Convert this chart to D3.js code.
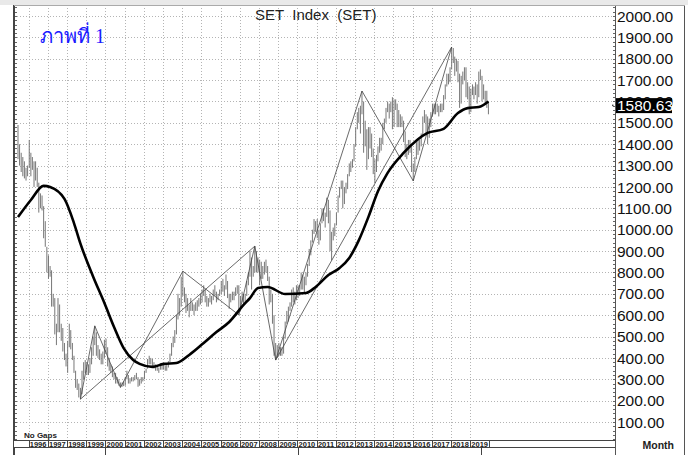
<!DOCTYPE html>
<html>
<head>
<meta charset="utf-8">
<script src="https://cdn.jsdelivr.net/npm/d3@7"></script>
<style>
  body { margin: 0; background: #fff; }
  svg { display: block; font-family: "Liberation Sans", Arial, sans-serif; }
</style>
</head>
<body>
<svg id="chart" width="688" height="455"></svg>
<script>
// monthly SET index bars, first bar = June 1995
const firstMonth = [1995, 5]
const highs = [
  1490, 1400, 1360, 1340, 1320, 1290, 1300,
  1420, 1360, 1340, 1320, 1320, 1290, 1220, 1170, 1160, 1110, 1040, 920,
  880, 830, 810, 700, 680, 560, 680, 650, 560, 540, 470, 420,
  480, 560, 530, 470, 410, 340, 300, 280, 260, 340, 380, 390,
  380, 370, 400, 450, 500, 550, 520, 460, 440, 420, 430, 485,
  490, 450, 400, 370, 360, 330, 330, 310, 300, 285, 285, 290,
  310, 340, 320, 305, 310, 310, 320, 330, 310, 300, 310, 310,
  340, 350, 395, 410, 400, 395, 380, 370, 360, 355, 375, 370,
  370, 365, 370, 385, 420, 470, 500, 530, 600, 700, 680, 780,
  806, 730, 700, 680, 650, 680, 660, 650, 660, 670, 680, 700,
  720, 740, 720, 690, 680, 700, 690, 720, 740, 710, 700, 720,
  760, 770, 740, 790, 760, 700, 700, 710, 710, 730, 740, 740,
  690, 710, 700, 700, 760, 800, 900, 870, 830, 923, 900, 870,
  860, 850, 830, 850, 860, 830, 780, 720, 700, 600, 470, 460,
  470, 450, 450, 500, 570, 620, 640, 660, 720, 730, 710, 740,
  740, 740, 800, 790, 780, 800, 840, 910, 950, 1000, 1050, 1040,
  1050, 1000, 1030, 1100, 1100, 1080, 1150, 1140, 1090, 990, 1010, 1030,
  1080, 1160, 1200, 1230, 1230, 1200, 1220, 1260, 1310, 1320, 1330, 1400,
  1480, 1550, 1570, 1580, 1649, 1600, 1510, 1470, 1480, 1480, 1450, 1380,
  1330, 1350, 1390, 1430, 1430, 1500, 1520, 1570, 1600, 1590, 1600, 1620,
  1610, 1610, 1590, 1560, 1540, 1530, 1510, 1460, 1400, 1420, 1420, 1390,
  1310, 1340, 1410, 1420, 1420, 1450, 1530, 1560, 1540, 1530, 1520, 1550,
  1590, 1590, 1590, 1590, 1580, 1590, 1590, 1630, 1680, 1730, 1730, 1760,
  1855, 1850, 1810, 1800, 1790, 1730, 1720, 1740, 1760, 1760, 1690, 1670,
  1660, 1680, 1670, 1690, 1680, 1740, 1750, 1720, 1680, 1650, 1650, 1600
]
const lows = [
  1330, 1300, 1270, 1250, 1240, 1230, 1250,
  1290, 1250, 1280, 1200, 1230, 1200, 1080, 1100, 1090, 960, 920, 800,
  770, 780, 640, 640, 510, 460, 520, 520, 480, 430, 390, 360,
  330, 450, 440, 390, 330, 260, 250, 215, 207, 230, 300, 330,
  320, 320, 330, 370, 410, 460, 410, 400, 390, 370, 370, 400,
  420, 360, 340, 330, 310, 300, 280, 280, 270, 262, 265, 268,
  270, 300, 280, 280, 290, 290, 295, 300, 265, 270, 280, 290,
  300, 330, 350, 370, 370, 360, 350, 340, 340, 330, 345, 345,
  345, 340, 340, 355, 380, 410, 450, 470, 510, 580, 600, 640,
  690, 660, 610, 620, 590, 620, 620, 600, 620, 620, 640, 650,
  660, 690, 660, 640, 640, 660, 650, 670, 690, 660, 670, 690,
  700, 710, 690, 720, 680, 630, 660, 670, 670, 690, 700, 601,
  620, 660, 650, 660, 690, 740, 780, 720, 780, 800, 800, 800,
  740, 770, 770, 790, 800, 760, 650, 660, 560, 410, 390, 400,
  410, 410, 410, 420, 490, 560, 570, 620, 640, 660, 650, 670,
  680, 690, 720, 720, 700, 740, 780, 830, 880, 940, 980, 990,
  960, 930, 950, 1030, 1040, 1010, 1060, 1030, 900, 857, 950, 970,
  1020, 1080, 1150, 1190, 1100, 1120, 1170, 1190, 1250, 1270, 1290, 1320,
  1390, 1470, 1500, 1450, 1540, 1360, 1390, 1280, 1330, 1380, 1340, 1260,
  1220, 1270, 1320, 1360, 1370, 1400, 1470, 1500, 1550, 1520, 1550, 1470,
  1480, 1560, 1480, 1480, 1480, 1480, 1410, 1340, 1330, 1350, 1360, 1270,
  1228, 1270, 1330, 1350, 1370, 1390, 1440, 1500, 1450, 1400, 1430, 1480,
  1530, 1540, 1540, 1550, 1530, 1550, 1550, 1560, 1610, 1670, 1680, 1690,
  1750, 1780, 1720, 1740, 1690, 1570, 1590, 1680, 1700, 1620, 1610, 1540,
  1550, 1630, 1610, 1630, 1590, 1620, 1700, 1600, 1610, 1590, 1570, 1540
]
const lastClose = 1580.63

// thick moving average
const maMonths = ['1995-06', '1996-02', '1996-10', '1997-02', '1997-11', '1998-05', '1998-09', '1999-05',
  '1999-12', '2000-06', '2000-12', '2001-06', '2001-10', '2002-06', '2003-01', '2003-09', '2004-05',
  '2005-02', '2005-10', '2006-06', '2007-03', '2007-07', '2007-12', '2008-06', '2009-05', '2010-06',
  '2010-12', '2011-08', '2012-03', '2012-09', '2013-03', '2013-09', '2014-03', '2014-09', '2015-07',
  '2016-10', '2017-08', '2018-05', '2018-11', '2019-06', '2019-12']
const maValues = [1059, 1139, 1205, 1200, 1144, 1031, 935, 780,
  657, 545, 446, 390, 372, 358, 372, 376, 414,
  470, 521, 568, 648, 680, 727, 732, 699, 704,
  732, 788, 821, 868, 950, 1060, 1180, 1266, 1359,
  1453, 1472, 1546, 1569, 1574, 1600]

// swing points joined by the thin trend lines
const swingMonths = ['1998-09', '1999-06', '2000-10', '2004-01', '2006-12', '2007-10', '2008-11', '2013-05', '2016-01', '2018-01']
const swingValues = [207, 550, 262, 806, 601, 923, 390, 1649, 1228, 1855]
const longLines = [[0, 5], [6, 9]]

const years = d3.range(1996, 2020)
const yTicks = d3.range(100, 2001, 100)

const svg = d3.select('#chart')
const W = 688, H = 455
const plot = { left: 14, right: 615, top: 5, bottom: 440 }

const x = d3.scaleTime()
  .domain([new Date(1996, 0, 1), new Date(2020, 0, 1)])
  .range([28.5, 489.3])
const y = d3.scaleLinear()
  .domain([0, 2000])
  .range([443.4, 16])

const monthDate = s => {
  let [yy, mm] = s.split('-').map(Number)
  return new Date(yy, mm - 1, 15)
}
const barDate = i => new Date(firstMonth[0], firstMonth[1] + i, 15)

svg.append('rect').attr('width', W).attr('height', H).attr('fill', '#fff')
svg.append('rect').attr('width', W).attr('height', plot.top).attr('fill', '#e9e9e9')

svg.append('defs').append('clipPath').attr('id', 'clip')
  .append('rect')
  .attr('x', plot.left).attr('y', plot.top)
  .attr('width', plot.right - plot.left).attr('height', plot.bottom - plot.top)

// grid
let grid = svg.append('g').attr('stroke', '#b4b4b4').attr('stroke-dasharray', '1,2')
grid.selectAll('.h').data(yTicks).enter().append('line')
  .attr('x1', plot.left).attr('x2', plot.right)
  .attr('y1', d => Math.round(y(d)) + 0.5).attr('y2', d => Math.round(y(d)) + 0.5)
grid.selectAll('.v').data(years).enter().append('line')
  .attr('x1', d => Math.round(x(new Date(d, 0, 1))) + 0.5)
  .attr('x2', d => Math.round(x(new Date(d, 0, 1))) + 0.5)
  .attr('y1', plot.top).attr('y2', plot.bottom)

let g = svg.append('g').attr('clip-path', 'url(#clip)')

// price bars
g.selectAll('.bar').data(highs).enter().append('line')
  .attr('x1', (d, i) => x(barDate(i))).attr('x2', (d, i) => x(barDate(i)))
  .attr('y1', d => y(d)).attr('y2', (d, i) => y(lows[i]))
  .attr('stroke', '#777').attr('stroke-width', 1)

// trend lines
let swings = swingMonths.map((m, i) => [x(monthDate(m)), y(swingValues[i])])
g.append('path')
  .attr('d', d3.line()(swings))
  .attr('fill', 'none').attr('stroke', '#444').attr('stroke-width', 0.8)
g.selectAll('.long').data(longLines).enter().append('line')
  .attr('x1', d => swings[d[0]][0]).attr('y1', d => swings[d[0]][1])
  .attr('x2', d => swings[d[1]][0]).attr('y2', d => swings[d[1]][1])
  .attr('stroke', '#444').attr('stroke-width', 0.8)

// moving average
g.append('path')
  .datum(maMonths.map((m, i) => [x(monthDate(m)), y(maValues[i])]))
  .attr('d', d3.line().curve(d3.curveMonotoneX))
  .attr('fill', 'none').attr('stroke', '#000').attr('stroke-width', 2.6)

// frames
let frame = svg.append('g').attr('stroke', '#555').attr('fill', 'none')
frame.append('line').attr('x1', plot.left).attr('x2', plot.left).attr('y1', plot.top).attr('y2', H)
  .attr('stroke-width', 2).attr('stroke', '#444')
frame.append('line').attr('x1', plot.right + 0.5).attr('x2', plot.right + 0.5).attr('y1', plot.top).attr('y2', H)
frame.append('line').attr('x1', 684.5).attr('x2', 684.5).attr('y1', plot.top).attr('y2', H)
frame.append('line').attr('x1', plot.left).attr('x2', 685).attr('y1', plot.top + 0.5).attr('y2', plot.top + 0.5)
  .attr('stroke', '#aaa')

// minor ticks on both axis lines
let minor = d3.range(20, 2041, 20).filter(v => y(v) > plot.top)
svg.append('g').attr('stroke', '#666').selectAll('line').data(minor).enter().append('line')
  .attr('x1', plot.left + 1).attr('x2', plot.left + 3)
  .attr('y1', d => Math.round(y(d)) + 0.5).attr('y2', d => Math.round(y(d)) + 0.5)
svg.append('g').attr('stroke', '#666').selectAll('line').data(minor).enter().append('line')
  .attr('x1', plot.right - 2).attr('x2', plot.right)
  .attr('y1', d => Math.round(y(d)) + 0.5).attr('y2', d => Math.round(y(d)) + 0.5)

// y labels
svg.append('g').selectAll('text').data(yTicks).enter().append('text')
  .attr('x', 617).attr('y', d => y(d)).attr('dy', '0.36em')
  .attr('font-size', 15.5).attr('fill', '#111')
  .text(d3.format('.2f'))

// last value tag
let lastY = y(lastClose)
svg.append('rect').attr('x', 616).attr('y', lastY - 7.5).attr('width', 56).attr('height', 15).attr('fill', '#000')
svg.append('text').attr('x', 617).attr('y', lastY).attr('dy', '0.36em')
  .attr('font-size', 15.5).attr('fill', '#fff').text(d3.format('.2f')(lastClose))
svg.append('rect').attr('x', 612).attr('y', lastY - 1).attr('width', 1.5).attr('height', 1.5).attr('fill', '#444')

// date row
let rowTop = 440, rowBottom = 447
svg.append('rect').attr('x', plot.left).attr('y', rowTop).attr('width', plot.right - plot.left).attr('height', rowBottom - rowTop)
  .attr('fill', '#fff')
let row = svg.append('g').attr('stroke', '#444')
row.append('line').attr('x1', plot.left).attr('x2', plot.right).attr('y1', rowTop + 0.5).attr('y2', rowTop + 0.5)
row.append('line').attr('x1', plot.left).attr('x2', plot.right).attr('y1', rowBottom + 0.5).attr('y2', rowBottom + 0.5)
row.selectAll('.sep').data(years.concat([2020])).enter().append('line')
  .attr('x1', d => Math.round(x(new Date(d, 0, 1))) + 0.5)
  .attr('x2', d => Math.round(x(new Date(d, 0, 1))) + 0.5)
  .attr('y1', rowTop).attr('y2', rowBottom)
svg.append('g').selectAll('text').data(years).enter().append('text')
  .attr('x', d => (x(new Date(d, 0, 1)) + x(new Date(d + 1, 0, 1))) / 2)
  .attr('y', rowBottom - 0.5)
  .attr('text-anchor', 'middle').attr('font-size', 7.5).attr('font-weight', 'bold').attr('fill', '#222')
  .text(d => d)
svg.append('g').attr('stroke', '#444').selectAll('line').data([105, 298, 481]).enter().append('line')
  .attr('x1', d => d + 0.5).attr('x2', d => d + 0.5).attr('y1', rowBottom).attr('y2', H)

svg.append('text').attr('x', 24).attr('y', 437.5)
  .attr('font-size', 8).attr('font-weight', 'bold').attr('fill', '#222').text('No Gaps')
svg.append('text').attr('x', 674).attr('y', 449).attr('text-anchor', 'end')
  .attr('font-size', 10.5).attr('font-weight', 'bold').attr('fill', '#222').text('Month')

// titles
svg.append('text').attr('x', 255).attr('y', 20)
  .attr('font-size', 15).attr('fill', '#222').style('white-space', 'pre')
  .text('SET  Index  (SET)')
svg.append('text').attr('x', 40).attr('y', 43)
  .attr('font-size', 20).attr('fill', '#1a1aff')
  .style('font-family', '"Liberation Serif", "Times New Roman", serif')
  .text('ภาพที่ 1')
</script>
</body>
</html>
